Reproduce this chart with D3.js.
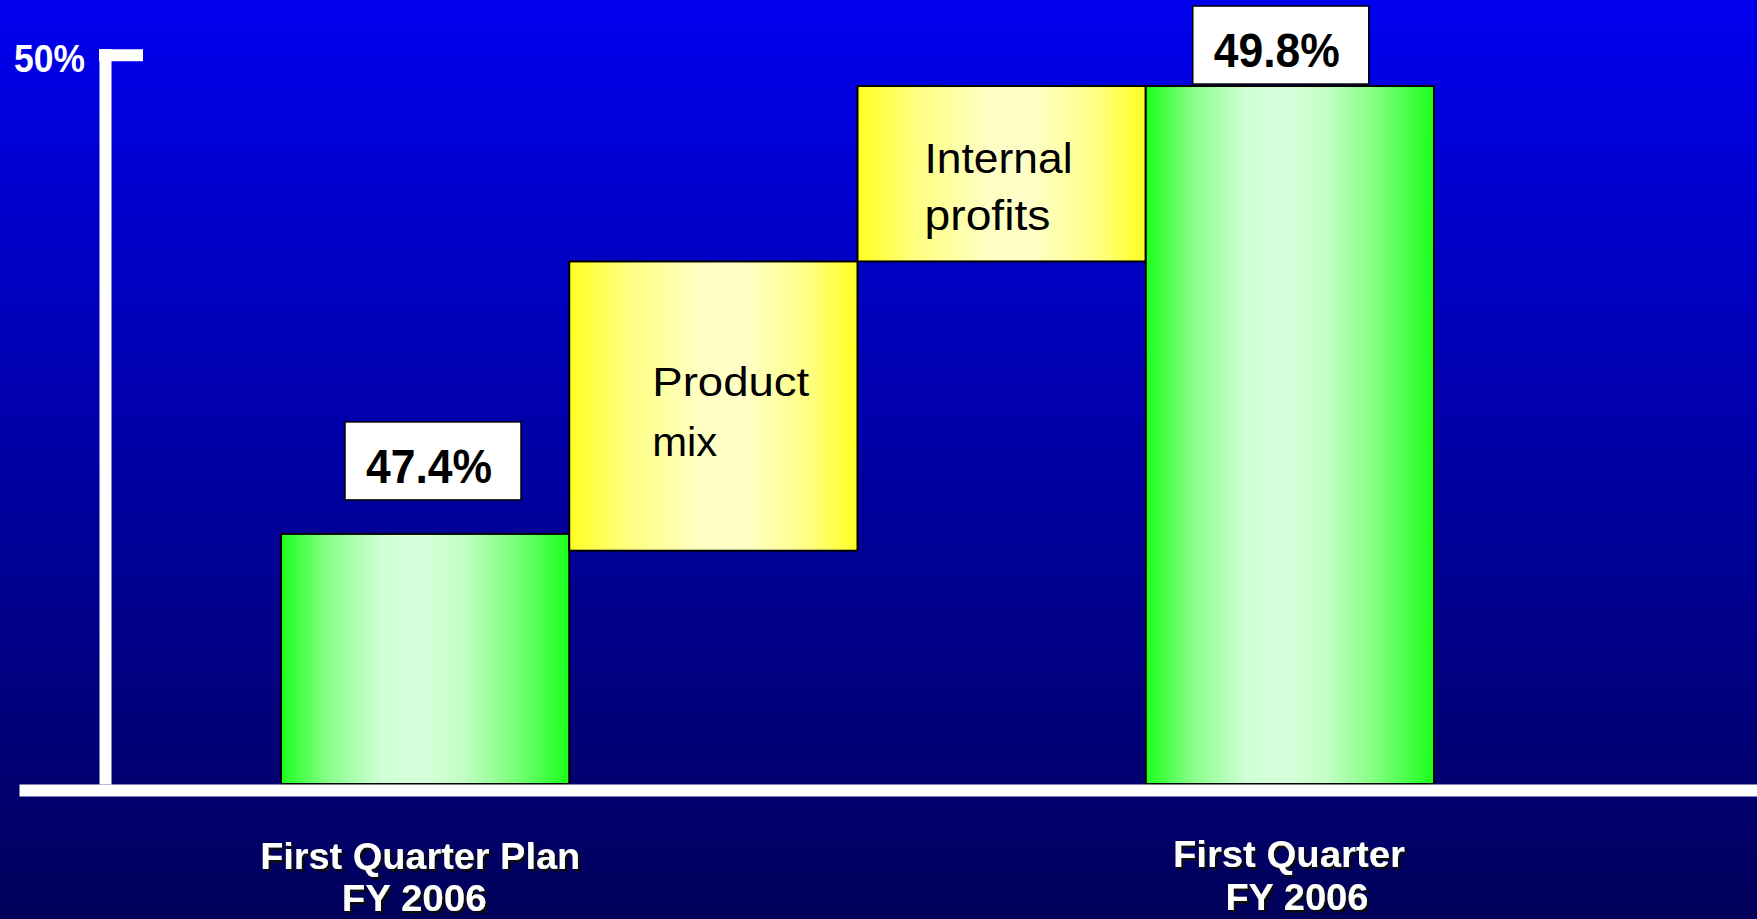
<!DOCTYPE html>
<html>
<head>
<meta charset="utf-8">
<script src="https://cdn.jsdelivr.net/npm/d3@7"></script>
<style>
  html, body { margin: 0; padding: 0; overflow: hidden; background: #000080; }
  svg { display: block; }
</style>
</head>
<body>
<script>
// ---------------- data ----------------
const stepNames   = ["First Quarter Plan FY 2006", "Product mix", "Internal profits", "First Quarter FY 2006"];
const stepKinds   = ["total", "delta", "delta", "total"];
const stepStart   = [46.06, 47.31, 48.86, 46.06];   // % (axis is truncated at ~46.06)
const stepEnd     = [47.4, 48.86, 49.8, 49.8];      // %
const valueLabels = ["47.4%", null, null, "49.8%"];
const categoryLines = [["First Quarter Plan", "FY 2006"], null, null, ["First Quarter", "FY 2006"]];
const stepTextLines = [null, ["Product", "mix"], ["Internal", "profits"], null];
const yTickValues = [50];
const yTickLabels = ["50%"];
const yAxisMin = 46.06;

// ---------------- layout ----------------
const W = 1757, H = 919;
const svg = d3.select("body").append("svg").attr("width", W).attr("height", H);
const defs = svg.append("defs");

const bg = defs.append("linearGradient").attr("id", "bg").attr("x1", 0).attr("y1", 0).attr("x2", 0).attr("y2", 1);
bg.append("stop").attr("offset", 0).attr("stop-color", "#0000EE");
bg.append("stop").attr("offset", 0.5).attr("stop-color", "#0000A4");
bg.append("stop").attr("offset", 1).attr("stop-color", "#00005A");

const green = defs.append("linearGradient").attr("id", "green").attr("x1", 0).attr("y1", 0).attr("x2", 1).attr("y2", 0);
[[0, "#1cff1c"], [0.17, "#8cff8c"], [0.35, "#cfffd6"], [0.5, "#d8ffdc"], [0.63, "#c2ffc2"], [0.8, "#80ff80"], [1, "#1aff1a"]]
  .forEach(([o, c]) => green.append("stop").attr("offset", o).attr("stop-color", c));

const yellow = defs.append("linearGradient").attr("id", "yellow").attr("x1", 0).attr("y1", 0).attr("x2", 1).attr("y2", 0);
[[0, "#ffff22"], [0.2, "#ffff80"], [0.45, "#ffffc4"], [0.6, "#ffffc8"], [0.82, "#ffff88"], [1, "#ffff22"]]
  .forEach(([o, c]) => yellow.append("stop").attr("offset", o).attr("stop-color", c));

const shadow = defs.append("filter").attr("id", "shadow")
  .attr("x", "-5%").attr("y", "-20%").attr("width", "115%").attr("height", "150%");
shadow.append("feDropShadow").attr("dx", 2.5).attr("dy", 2.5).attr("stdDeviation", 0.3)
  .attr("flood-color", "#111").attr("flood-opacity", 1);

svg.append("rect").attr("width", W).attr("height", H).attr("fill", "url(#bg)");

const x = d3.scaleBand().domain(stepNames).range([281, 1434]).padding(0);
const y = d3.scaleLinear().domain([yAxisMin, 50]).range([784, 48.7]);

const FONT = "'Liberation Sans', Arial, sans-serif";

// bars
svg.append("g").selectAll("rect")
  .data(stepNames)
  .join("rect")
  .attr("x", d => x(d))
  .attr("width", x.bandwidth())
  .attr("y", (d, i) => y(stepEnd[i]))
  .attr("height", (d, i) => y(stepStart[i]) - y(stepEnd[i]))
  .attr("fill", (d, i) => stepKinds[i] === "total" ? "url(#green)" : "url(#yellow)")
  .attr("stroke", "#000")
  .attr("stroke-width", 2);

// text inside delta boxes
const stepTextDx = [0, 83, 67, 0];
const stepTextDy = [0, 135, 87, 0];
const stepTextGap = [0, 60, 57, 0];
const stepTextSize = [0, 40, 42, 0];
const stepTextLen = [null, [157, 65], [148, 126], null];
stepNames.forEach((name, i) => {
  if (!stepTextLines[i]) return;
  stepTextLines[i].forEach((line, j) => {
    svg.append("text")
      .attr("x", x(name) + stepTextDx[i])
      .attr("y", y(stepEnd[i]) + stepTextDy[i] + j * stepTextGap[i])
      .attr("font-family", FONT)
      .attr("font-size", stepTextSize[i])
      .attr("fill", "#000")
      .attr("textLength", stepTextLen[i][j])
      .attr("lengthAdjust", "spacingAndGlyphs")
      .text(line);
  });
});

// value label boxes
const labelDx = [64, 0, 0, 47];
const labelDy = [-112, 0, 0, -80];
stepNames.forEach((name, i) => {
  if (!valueLabels[i]) return;
  const bx = x(name) + labelDx[i];
  const by = y(stepEnd[i]) + labelDy[i];
  svg.append("rect")
    .attr("x", bx).attr("y", by).attr("width", 176).attr("height", 78)
    .attr("fill", "#fff").attr("stroke", "#000").attr("stroke-width", 1.5);
  svg.append("text")
    .attr("x", bx + 21).attr("y", by + 61)
    .attr("font-family", FONT).attr("font-weight", "bold").attr("font-size", 49)
    .attr("fill", "#000")
    .attr("textLength", 126).attr("lengthAdjust", "spacingAndGlyphs")
    .text(valueLabels[i]);
});

// y axis (white thick)
const yAxis = d3.axisLeft(y).tickValues(yTickValues).tickFormat((d, i) => yTickLabels[i])
  .tickSize(-38).tickSizeOuter(0).tickPadding(20);
const gy = svg.append("g").attr("transform", "translate(105,0)").call(yAxis);
gy.select(".domain").attr("stroke", "#fff").attr("stroke-width", 12);
gy.selectAll(".tick line").attr("stroke", "#fff").attr("stroke-width", 12).attr("y1", 6).attr("y2", 6).attr("x1", -6);
gy.selectAll(".tick text")
  .attr("fill", "#fff").attr("font-family", FONT).attr("font-weight", "bold").attr("font-size", 39)
  .attr("dy", null).attr("y", 22.5)
  .attr("textLength", 71).attr("lengthAdjust", "spacingAndGlyphs");

// x axis baseline
const xLine = d3.scaleLinear().domain([0, 1]).range([19, W]);
const xAxis = d3.axisBottom(xLine).tickValues([]).tickSizeOuter(0);
const gx = svg.append("g").attr("transform", `translate(0,${y(yAxisMin) + 6})`).call(xAxis);
gx.select(".domain").attr("stroke", "#fff").attr("stroke-width", 12);

// category labels (white, with a dark drop shadow)
const catDx = [[-5, -11], null, null, [-1, 7]];
const catBase = [[869, 911], null, null, [867, 910]];
const catLen = [[320, 145], null, null, [232, 143]];
stepNames.forEach((name, i) => {
  if (!categoryLines[i]) return;
  const cx = x(name) + x.bandwidth() / 2;
  categoryLines[i].forEach((line, j) => {
    svg.append("text")
      .attr("x", cx + catDx[i][j])
      .attr("y", catBase[i][j])
      .attr("text-anchor", "middle")
      .attr("font-family", FONT).attr("font-weight", "bold").attr("font-size", 36)
      .attr("fill", "#fff")
      .attr("filter", "url(#shadow)")
      .attr("textLength", catLen[i][j]).attr("lengthAdjust", "spacingAndGlyphs")
      .text(line);
  });
});
</script>
</body>
</html>
